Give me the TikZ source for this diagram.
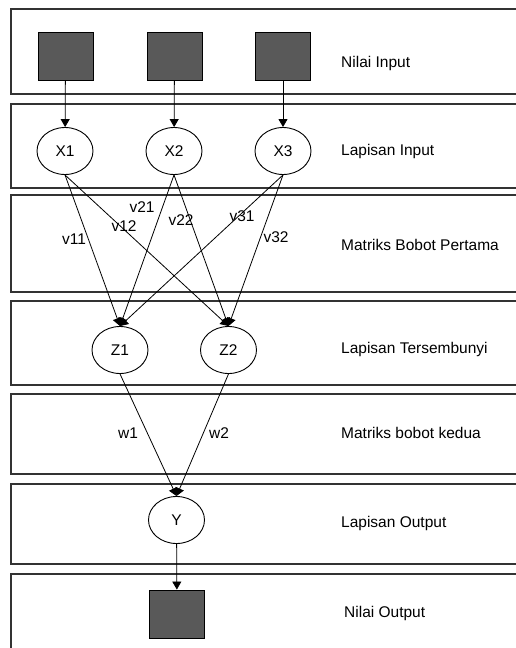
\documentclass[tikz,border=0pt]{standalone}
\usepackage{fontspec}
\setmainfont{Liberation Sans}
\usetikzlibrary{arrows.meta,shapes.geometric}
\newcommand\lblsize{\fontsize{15.5}{18}\selectfont}
\begin{document}
\begin{tikzpicture}[x=1pt,y=-1pt,
  band/.style={draw=black!80, line width=1.4pt},
  valbox/.style={draw=black, fill=black!65, minimum width=55pt, minimum height=48pt, line width=0.9pt, inner sep=0pt},
  neuron/.style={draw=black, ellipse, minimum width=56pt, minimum height=47pt, line width=0.9pt, inner sep=0pt, font=\lblsize},
  conn/.style={line width=0.8pt, -{Triangle[length=8pt,width=9pt]}},
  layertext/.style={anchor=west, font=\lblsize, inner sep=0pt},
  wt/.style={font=\lblsize, inner sep=0pt}
]
\useasboundingbox (0,0) rectangle (516,648);
\clip (0,0) rectangle (516,648);

% layer bands, open towards the right-hand edge
\draw[band] (530,9)   -- (11,9)   -- (11,94)  -- (530,94);
\draw[band] (530,104) -- (11,104) -- (11,188) -- (530,188);
\draw[band] (530,195) -- (11,195) -- (11,292) -- (530,292);
\draw[band] (530,301) -- (11,301) -- (11,385) -- (530,385);
\draw[band] (530,394) -- (11,394) -- (11,474) -- (530,474);
\draw[band] (530,484) -- (11,484) -- (11,564) -- (530,564);
\draw[band] (530,574) -- (11,574) -- (11,670);

% input values
\node[valbox] (in1) at (65.5,56) {};
\node[valbox] (in2) at (174.5,56) {};
\node[valbox] (in3) at (283,56) {};

% input layer
\node[neuron] (x1) at (65,151) {X1};
\node[neuron] (x2) at (174,151) {X2};
\node[neuron] (x3) at (283,151) {X3};

% hidden layer
\node[neuron] (z1) at (120,350) {Z1};
\node[neuron] (z2) at (228.5,350) {Z2};

% output layer
\node[neuron] (y) at (176.5,520) {Y};
\node[valbox] (out) at (177,614) {};

% connections
\draw[conn] (in1) -- (x1);
\draw[conn] (in2) -- (x2);
\draw[conn] (in3) -- (x3);

\draw[conn] (x1.south) -- (z1.north);
\draw[conn] (x1.south) -- (z2.north);
\draw[conn] (x2.south) -- (z1.north);
\draw[conn] (x2.south) -- (z2.north);
\draw[conn] (x3.south) -- (z1.north);
\draw[conn] (x3.south) -- (z2.north);

\draw[conn] (z1.south) -- (y.north);
\draw[conn] (z2.south) -- (y.north);
\draw[conn] (y) -- (out);

% weight labels
\node[wt] (v11) at (74,239) {v11};
\node[wt] (v12) at (124,226) {v12};
\node[wt] (v21) at (142,207) {v21};
\node[wt] (v22) at (181,220) {v22};
\node[wt] (v31) at (242,216) {v31};
\node[wt] (v32) at (276,237) {v32};
\node[wt] (w1) at (128,433) {w1};
\node[wt] (w2) at (219,433) {w2};

% layer names
\node[layertext] (t1) at (341,63)  {Nilai Input};
\node[layertext] (t2) at (341,151) {Lapisan Input};
\node[layertext] (t3) at (341,245) {Matriks Bobot Pertama};
\node[layertext] (t4) at (341,349) {Lapisan Tersembunyi};
\node[layertext] (t5) at (341,433) {Matriks bobot kedua};
\node[layertext] (t6) at (341,523) {Lapisan Output};
\node[layertext] (t7) at (344,613) {Nilai Output};
\end{tikzpicture}
\end{document}
